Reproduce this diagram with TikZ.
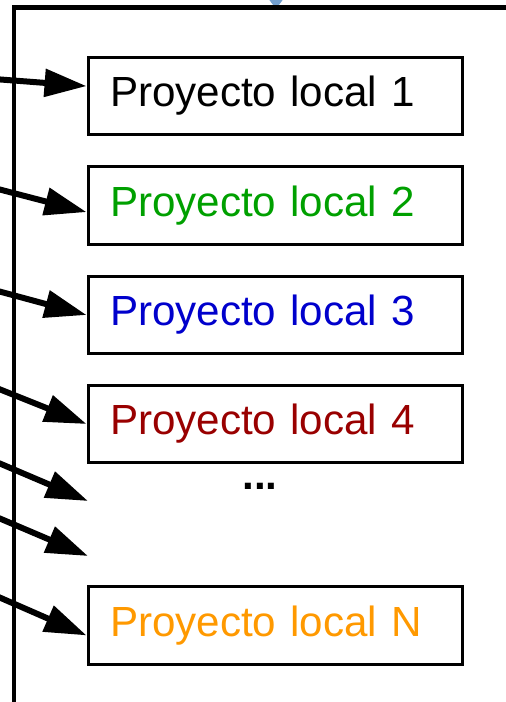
\documentclass[tikz,border=0pt]{standalone}
\usepackage{fontspec}
\setmainfont{Liberation Sans}
\usepackage{xcolor}
\usetikzlibrary{arrows.meta}
\definecolor{verdeproy}{RGB}{0,160,0}
\definecolor{azulproy}{RGB}{0,0,204}
\definecolor{rojoproy}{RGB}{153,0,0}
\definecolor{naranjaproy}{RGB}{255,153,0}
\definecolor{azulflecha}{RGB}{114,159,207}

\begin{document}
\begin{tikzpicture}[x=0.02cm, y=-0.02cm,
    proyecto/.style={draw, line width=0.06cm, minimum height=1.56cm, text width=6.62cm,
        inner xsep=0.44cm, align=left, font=\fontsize{24}{28}\selectfont},
    flecha/.style={line width=0.12cm, -{Triangle[length=0.84cm, width=0.54cm]}}]
    \useasboundingbox (0,0) rectangle (506,702);

    % marco
    \fill[azulflecha] (265,-6) -- (287,-6) -- (276,9) -- cycle;
    \draw[line width=0.1cm] (14,712) -- (14,8) -- (512,8);

    % proyectos locales
    \node[proyecto] (p1) at (275.5,96) {Proyecto local 1};
    \node[proyecto, text=verdeproy] (p2) at (275.5,205.5) {Proyecto local 2};
    \node[proyecto, text=azulproy] (p3) at (275.5,315) {Proyecto local 3};
    \node[proyecto, text=rojoproy] (p4) at (275.5,424) {Proyecto local 4};
    \node[font=\fontsize{24}{28}\selectfont\bfseries] (puntos) at (260,486) {...};
    \node[proyecto, text=naranjaproy] (pN) at (275.5,625.5) {Proyecto local N};

    % flechas
    \coordinate (o1) at (-6,79);
    \coordinate (o2) at (-6,188);
    \coordinate (o3) at (-6,290);
    \coordinate (o4) at (-6,387);
    \coordinate (o5) at (-6,461);
    \coordinate (o6) at (-6,516);
    \coordinate (oN) at (-6,595);
    \coordinate (d5) at (88,501);
    \coordinate (d6) at (88,556);

    \draw[flecha] (o1) -- (p1.177);
    \draw[flecha] (o2) -- (p2.182);
    \draw[flecha] (o3) -- (p3.west);
    \draw[flecha] (o4) -- (p4.west);
    \draw[flecha] (o5) -- (d5);
    \draw[flecha] (o6) -- (d6);
    \draw[flecha] (oN) -- (pN.183);

\end{tikzpicture}
\end{document}
